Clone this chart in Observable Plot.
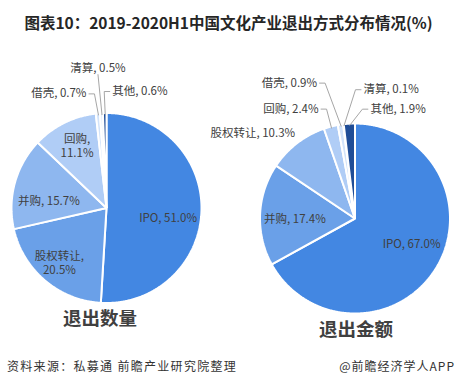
<!DOCTYPE html>
<html><head><meta charset="utf-8">
<script src="https://cdn.jsdelivr.net/npm/d3@7"></script>
<script src="https://cdn.jsdelivr.net/npm/@observablehq/plot@0.6"></script>
<style>
html,body{margin:0;padding:0;background:#fff;}
body{width:457px;height:387px;overflow:hidden;position:relative;font-family:"Noto Sans CJK SC","Noto Sans",sans-serif;}
#title{position:absolute;left:0;top:0;width:457px;height:40px;line-height:44px;text-align:center;font-weight:bold;font-size:15.5px;color:#262626;white-space:nowrap;}
#chart{position:absolute;left:0;top:40px;}
#src{position:absolute;left:7px;top:357px;font-size:12px;letter-spacing:1.3px;color:#333;white-space:nowrap;}
#brand{position:absolute;right:2px;top:357px;font-size:12px;letter-spacing:1px;color:#333;white-space:nowrap;}
</style></head>
<body>
<div id="title"></div>
<div id="chart"></div>
<div id="src"></div>
<div id="brand"></div>
<script>
// ---- data ----
const titleText = "图表10：2019-2020H1中国文化产业退出方式分布情况(%)";
const countCategories = ["IPO","股权转让","并购","回购","借壳","清算","其他"];
const countValues = [51.0,20.5,15.7,11.1,0.7,0.5,0.6];
const amountCategories = ["IPO","并购","股权转让","回购","借壳","清算","其他"];
const amountValues = [67.0,17.4,10.3,2.4,0.9,0.1,1.9];
const pieTitles = ["退出数量","退出金额"];
const sliceColors = ["#4387e2","#6aa0e8","#8eb7ef","#b0cdf6","#d2e3fa","#e6effc","#1f4d97"];
const sourceText = "资料来源：私募通 前瞻产业研究院整理";
const brandText = "@前瞻经济学人APP";

document.getElementById("title").textContent = titleText;
document.getElementById("src").textContent = sourceText;
document.getElementById("brand").textContent = brandText;

// ---- layout ----
const W = 457, H = 310, TOP = 40;
const pies = [
  {cats: countCategories, vals: countValues, cx: 106.5, cy: 208, r: 94, title: pieTitles[0], tdx: -7, ty: 319,
   labels: [
     {k: .65, dx: 0, dy: 7, anchor: "middle", sep: ", "},
     {k: .75, dx: -2, dy: 0, anchor: "middle", sep: ",\n"},
     {k: .63, dx: -1, dy: 8, anchor: "middle", sep: ", "},
     {k: .74, dx: 1, dy: -1, anchor: "middle", sep: ",\n"},
     {k: 1, dx: -12, dy: -22, anchor: "end", sep: ", ", leader: "side"},
     {k: 1, dx: -4, dy: -47, anchor: "middle", sep: ", ", leader: "below"},
     {k: 1, dx: 7, dy: -24, anchor: "start", sep: ", ", leader: "side"}
   ]},
  {cats: amountCategories, vals: amountValues, cx: 355, cy: 218.5, r: 94, title: pieTitles[1], tdx: 0.5, ty: 330,
   labels: [
     {k: .65, dx: 3.5, dy: -6.5, anchor: "middle", sep: ", "},
     {k: .645, dx: 0, dy: 2, anchor: "middle", sep: ", "},
     {k: 1, dx: -3, dy: -12, anchor: "end", sep: ", "},
     {k: 1, dx: -13, dy: -20, anchor: "end", sep: ", ", leader: "side"},
     {k: 1, dx: -24, dy: -44, anchor: "end", sep: ", ", leader: "side"},
     {k: 1, dx: 19.5, dy: -37, anchor: "start", sep: ", ", leader: "side"},
     {k: 1, dx: 20.5, dy: -17, anchor: "start", sep: ", ", leader: "side"}
   ]}
];

const slicePts = [], leaderPts = [], labelRows = [], titleRows = [];
pies.forEach((p, pi) => {
  const arcs = d3.pie().sort(null).startAngle(0).endAngle(2 * Math.PI)(p.vals);
  const polar = (a, rr) => ({x: p.cx + rr * Math.sin(a), y: p.cy - rr * Math.cos(a)});
  arcs.forEach((a, i) => {
    const key = pi + "-" + i;
    const n = Math.max(2, Math.ceil((a.endAngle - a.startAngle) / (Math.PI / 360)) + 1);
    for (let j = 0; j < n; j++) {
      const ang = a.startAngle + (a.endAngle - a.startAngle) * j / (n - 1);
      const pt = polar(ang, p.r + 1);
      slicePts.push({key, x: pt.x, y: pt.y, cx: p.cx, cy: p.cy, color: sliceColors[i]});
    }
    const L = p.labels[i];
    const mid = (a.startAngle + a.endAngle) / 2;
    const base = polar(mid, p.r * L.k);
    const tx = base.x + L.dx, ty = base.y + L.dy;
    labelRows.push({x: tx, y: ty, text: p.cats[i] + L.sep + p.vals[i].toFixed(1) + "%", anchor: L.anchor});
    if (L.leader === "side") {
      const dir = L.anchor === "end" ? 1 : -1;
      leaderPts.push({key, x: tx + dir * 2.5, y: ty + 1});
      leaderPts.push({key, x: tx + dir * 8, y: ty + 1});
      leaderPts.push({key, x: base.x, y: base.y});
    } else if (L.leader === "below") {
      leaderPts.push({key, x: tx, y: ty + 7});
      leaderPts.push({key, x: base.x, y: base.y});
    }
  });
  titleRows.push({x: p.cx + p.tdx, y: p.ty, text: p.title});
});

const labelMark = (anchor) => Plot.text(labelRows.filter(d => d.anchor === anchor),
  {x: "x", y: "y", text: "text", textAnchor: anchor, fill: "#404040", fontSize: 11.5, lineHeight: 1.25});

const chart = Plot.plot({
  width: W, height: H, margin: 0,
  style: {fontFamily: '"Noto Sans CJK SC","Noto Sans",sans-serif', background: "white", overflow: "visible"},
  x: {domain: [0, W], range: [0, W], axis: null},
  y: {domain: [TOP, TOP + H], range: [0, H], axis: null},
  color: {type: "identity"},
  marks: [
    Plot.area(slicePts, {x1: "x", y1: "y", x2: "cx", y2: "cy", z: "key", fill: "color", stroke: "white", strokeWidth: 2, strokeLinejoin: "miter"}),
    Plot.line(leaderPts, {x: "x", y: "y", z: "key", stroke: "#a6a6a6", strokeWidth: 1}),
    labelMark("middle"), labelMark("start"), labelMark("end"),
    Plot.text(titleRows, {x: "x", y: "y", text: "text", fill: "#404040", fontSize: 18.5, fontWeight: "bold"})
  ]
});
document.getElementById("chart").appendChild(chart);
</script>
</body></html>
